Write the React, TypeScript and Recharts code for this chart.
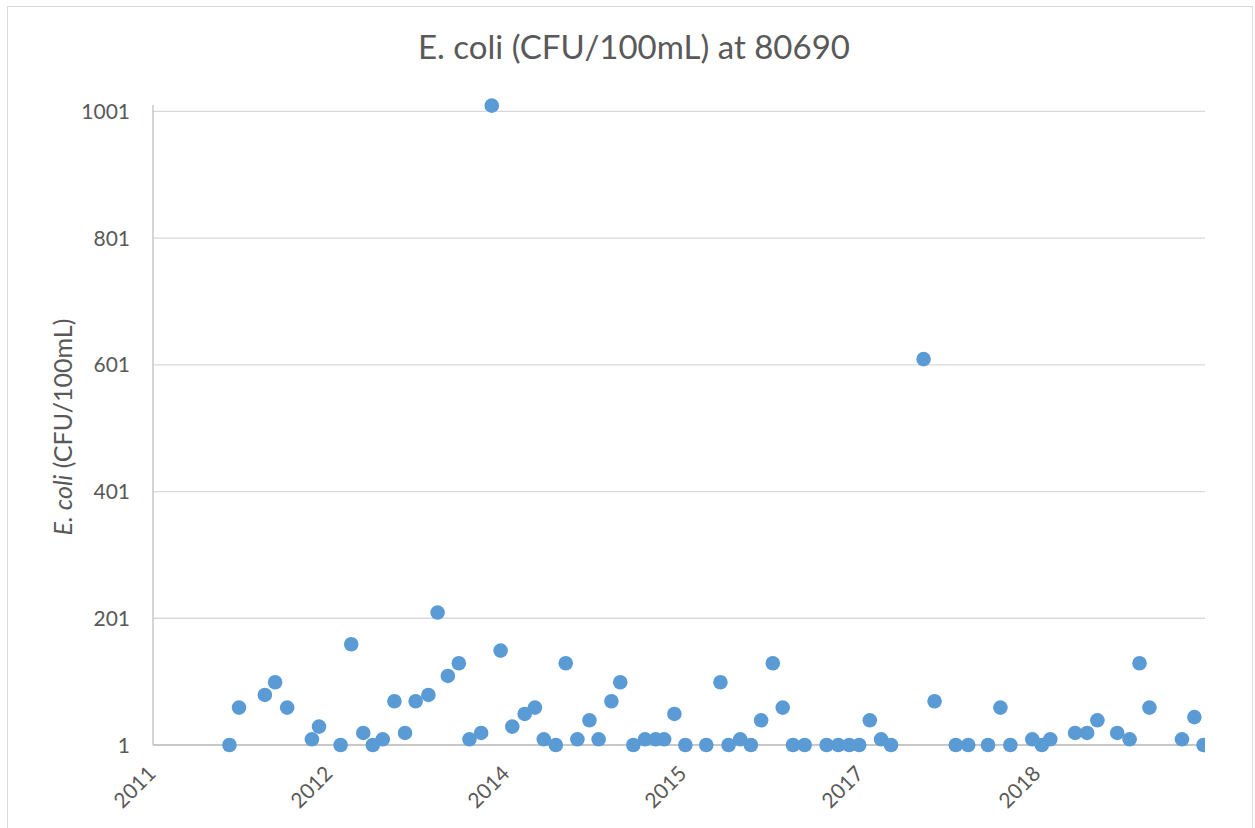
import { ScatterChart, Scatter, XAxis, YAxis, CartesianGrid } from 'recharts';

// sample dates as spreadsheet serial day numbers
const sampleDays = [
  40966, 40993, 41066, 41095, 41129, 41199, 41219, 41280, 41310, 41344,
  41371, 41399, 41432, 41462, 41492, 41528, 41554, 41583, 41614, 41644,
  41677, 41707, 41732, 41765, 41800, 41829, 41854, 41888, 41916, 41949,
  41983, 42009, 42045, 42070, 42107, 42140, 42170, 42194, 42223, 42254,
  42313, 42353, 42376, 42409, 42439, 42468, 42501, 42529, 42558, 42591,
  42653, 42686, 42717, 42745, 42775, 42807, 42835, 42927, 42958, 43018,
  43053, 43109, 43144, 43172, 43234, 43261, 43285, 43355, 43389, 43418,
  43474, 43509, 43537, 43565, 43657, 43692, 43718,
];

const ecoliValues = [
  1, 60, 80, 100, 60, 10, 30, 1, 160, 20,
  1, 10, 70, 20, 70, 80, 210, 110, 130, 10,
  20, 1010, 150, 30, 50, 60, 10, 1, 130, 10,
  40, 10, 70, 100, 1, 10, 10, 10, 50, 1,
  1, 100, 1, 10, 1, 40, 130, 60, 1, 1,
  1, 1, 1, 1, 40, 10, 1, 610, 70, 1,
  1, 1, 60, 1, 10, 1, 10, 20, 20, 40,
  20, 10, 130, 60, 10, 45, 1,
];

const xTicks = [40750, 41250, 41750, 42250, 42750, 43250];
const xTickLabels = ['2011', '2012', '2014', '2015', '2017', '2018'];
const yTicks = [1, 201, 401, 601, 801, 1001];

const data = sampleDays.map((day, i) => ({ day, value: ecoliValues[i] }));

const FONT = 'Lato, "Open Sans", sans-serif';
const TEXT = '#595959';

const Dot = (props: any) => (
  <circle cx={props.cx} cy={props.cy} r={7.3} fill="#5B9BD5" />
);

const YTick = ({ x, y, payload }: any) => (
  <text x={x} y={y} dy="0.36em" textAnchor="end" fill={TEXT} fontSize={21} fontFamily={FONT}>
    {payload.value}
  </text>
);

const XTick = ({ x, y, payload }: any) => {
  const label = xTickLabels[xTicks.indexOf(payload.value)];
  return (
    <g transform={`translate(${x + 4},${y + 28})`}>
      <text transform="rotate(-45)" textAnchor="end" fill={TEXT} fontSize={21} fontFamily={FONT}>
        {label}
      </text>
    </g>
  );
};

const YTitle = ({ viewBox }: any) => {
  const cx = 72;
  const cy = viewBox.y + viewBox.height / 2 + 2;
  return (
    <text
      x={cx}
      y={cy}
      transform={`rotate(-90 ${cx} ${cy})`}
      textAnchor="middle"
      fill={TEXT}
      fontSize={25}
      fontFamily={FONT}
    >
      <tspan fontStyle="italic">E. coli</tspan>
      <tspan> (CFU/100mL)</tspan>
    </text>
  );
};

const App = () => {
  return (
    <div style={{ position: 'absolute', left: 0, top: 0, width: 1255, height: 828, background: '#fff', overflow: 'hidden' }}>
      {/* chart area border */}
      <div
        style={{
          position: 'absolute',
          left: 7,
          top: 6,
          width: 1246,
          height: 830,
          border: '1px solid #D9D9D9',
          boxSizing: 'border-box',
        }}
      />
      <ScatterChart
        width={1255}
        height={828}
        margin={{ top: 105, right: 50, bottom: 0, left: 0 }}
        style={{ position: 'absolute', left: 0, top: 0 }}
      >
        <text x={634} y={59} textAnchor="middle" fill={TEXT} fontSize={33} fontFamily={FONT}>
          E. coli (CFU/100mL) at 80690
        </text>
        <CartesianGrid
          horizontal
          vertical={false}
          horizontalValues={yTicks}
          stroke="#D9D9D9"
          strokeWidth={1.3}
        />
        <XAxis
          type="number"
          dataKey="day"
          domain={[40750, 43722]}
          ticks={xTicks}
          height={83}
          tickLine={false}
          tickSize={0}
          tick={<XTick />}
          axisLine={{ stroke: '#BFBFBF', strokeWidth: 1.3 }}
          allowDataOverflow
        />
        <YAxis
          type="number"
          dataKey="value"
          domain={[1, 1011]}
          ticks={yTicks}
          width={153}
          tickLine={false}
          tickSize={0}
          tickMargin={23}
          tick={<YTick />}
          axisLine={{ stroke: '#BFBFBF', strokeWidth: 1.3 }}
          label={<YTitle />}
        />
        <Scatter data={data} shape={<Dot />} isAnimationActive={false} />
      </ScatterChart>
    </div>
  );
};

export default App;
